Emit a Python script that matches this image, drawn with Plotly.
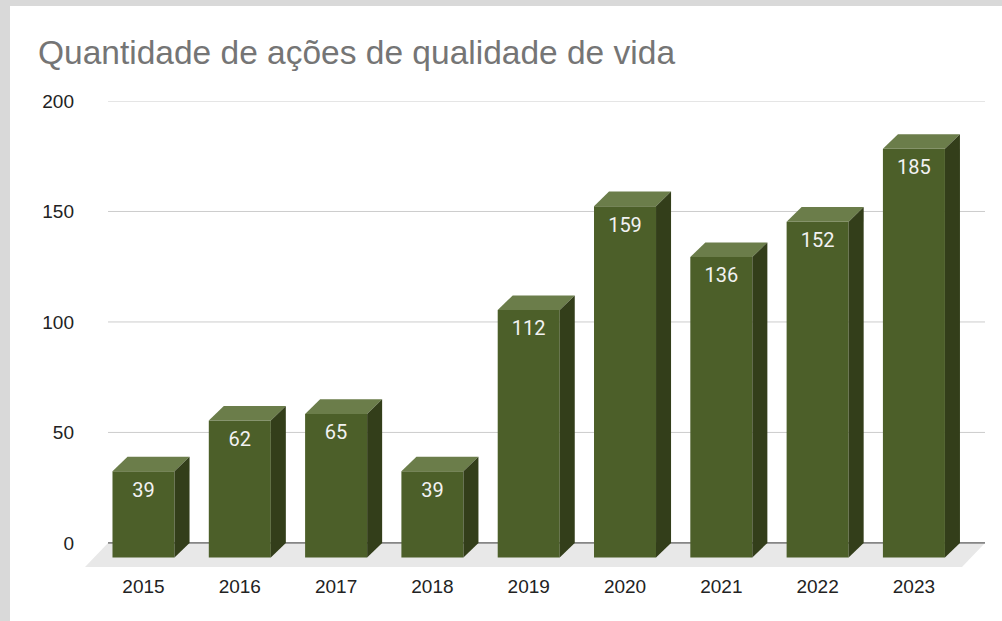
import plotly.graph_objects as go

anos = ['2015', '2016', '2017', '2018', '2019', '2020', '2021', '2022', '2023']
acoes = [39, 62, 65, 39, 112, 159, 136, 152, 185]
y_ticks = [0, 50, 100, 150, 200]

# cores do efeito 3D
cor_frente = '#4c5f29'
cor_topo = '#6b7d4a'
cor_lado = '#333e1a'

# geometria (unidades dos eixos)
meia = 0.322      # meia largura da face da frente
dx = 0.156        # profundidade horizontal
dy = 6.6          # profundidade vertical
piso_dx = 0.239
piso_dy = 10.9
x_min, x_max = -0.6075, 8.738

idx = list(range(len(anos)))

fig = go.Figure()

# faces da frente
fig.add_trace(go.Bar(
    x=idx,
    y=acoes,
    base=-dy,
    width=2 * meia,
    marker=dict(color=cor_frente, line=dict(width=0)),
    hoverinfo='skip',
    showlegend=False
))

# topo e lateral de cada barra
for i, v in zip(idx, acoes):
    fig.add_trace(go.Scatter(
        x=[i - meia, i + meia, i + meia + dx, i - meia + dx, i - meia],
        y=[v - dy, v - dy, v, v, v - dy],
        fill='toself', fillcolor=cor_topo, mode='lines',
        line=dict(width=0, color=cor_topo),
        hoverinfo='skip', showlegend=False
    ))
    fig.add_trace(go.Scatter(
        x=[i + meia, i + meia + dx, i + meia + dx, i + meia, i + meia],
        y=[v - dy, v, 0, -dy, v - dy],
        fill='toself', fillcolor=cor_lado, mode='lines',
        line=dict(width=0, color=cor_lado),
        hoverinfo='skip', showlegend=False
    ))

# rótulos de valor
fig.add_trace(go.Scatter(
    x=idx,
    y=[v - dy - 9.2 for v in acoes],
    text=[str(v) for v in acoes],
    mode='text',
    textposition='middle center',
    textfont=dict(family='Roboto', size=20, color='#f2f2f2'),
    hoverinfo='skip', showlegend=False
))

x_fundo0 = x_min + piso_dx
shapes = [
    # piso
    dict(type='path', xref='x', yref='y', layer='below',
         path=f'M {x_fundo0},0 L {x_max},0 L {x_max - piso_dx},{-piso_dy} L {x_min},{-piso_dy} Z',
         fillcolor='#e8e8e8', line=dict(width=0)),
]
for t in y_ticks:
    shapes.append(dict(type='line', xref='x', yref='y', layer='below',
                       x0=x_fundo0, x1=x_max, y0=t, y1=t,
                       line=dict(color='#333333' if t == 0 else '#cccccc', width=1)))

# moldura cinza da página
ml, mr, mt, mb = 85, 17, 101, 54
W, H = 1002, 621
pw, ph = W - ml - mr, H - mt - mb
shapes.append(dict(type='rect', xref='paper', yref='paper', layer='above',
                   x0=-ml / pw, x1=(W - ml) / pw, y0=(H - mb) / ph, y1=(H - mb - 6) / ph,
                   fillcolor='#d9d9d9', line=dict(width=0)))
shapes.append(dict(type='rect', xref='paper', yref='paper', layer='above',
                   x0=-ml / pw, x1=(10 - ml) / pw, y0=-mb / ph, y1=(H - mb) / ph,
                   fillcolor='#d9d9d9', line=dict(width=0)))

fig.update_layout(
    width=W, height=H,
    margin=dict(l=ml, r=mr, t=mt, b=mb, pad=0),
    paper_bgcolor='white',
    plot_bgcolor='white',
    title=dict(
        text='Quantidade de ações de qualidade de vida',
        font=dict(family='Arial, Liberation Sans', size=33.5, color='#757575'),
        x=38 / W, xanchor='left',
        y=1 - 52 / H, yanchor='middle', yref='container'
    ),
    xaxis=dict(
        range=[x_min, x_max],
        tickvals=idx, ticktext=anos,
        showgrid=False, zeroline=False, showline=False, ticks='',
        ticklabelstandoff=6,
        tickfont=dict(family='Arial, Liberation Sans', size=19, color='#222222')
    ),
    yaxis=dict(
        range=[-piso_dy, 200],
        tickvals=y_ticks,
        showgrid=False, zeroline=False, showline=False, ticks='',
        ticklabelstandoff=10,
        tickfont=dict(family='Arial, Liberation Sans', size=19, color='#222222')
    ),
    shapes=shapes,
    showlegend=False,
    hovermode=False
)

fig.write_html("out.html", config={'displayModeBar': False},
               post_script="document.body.style.margin='0';")
